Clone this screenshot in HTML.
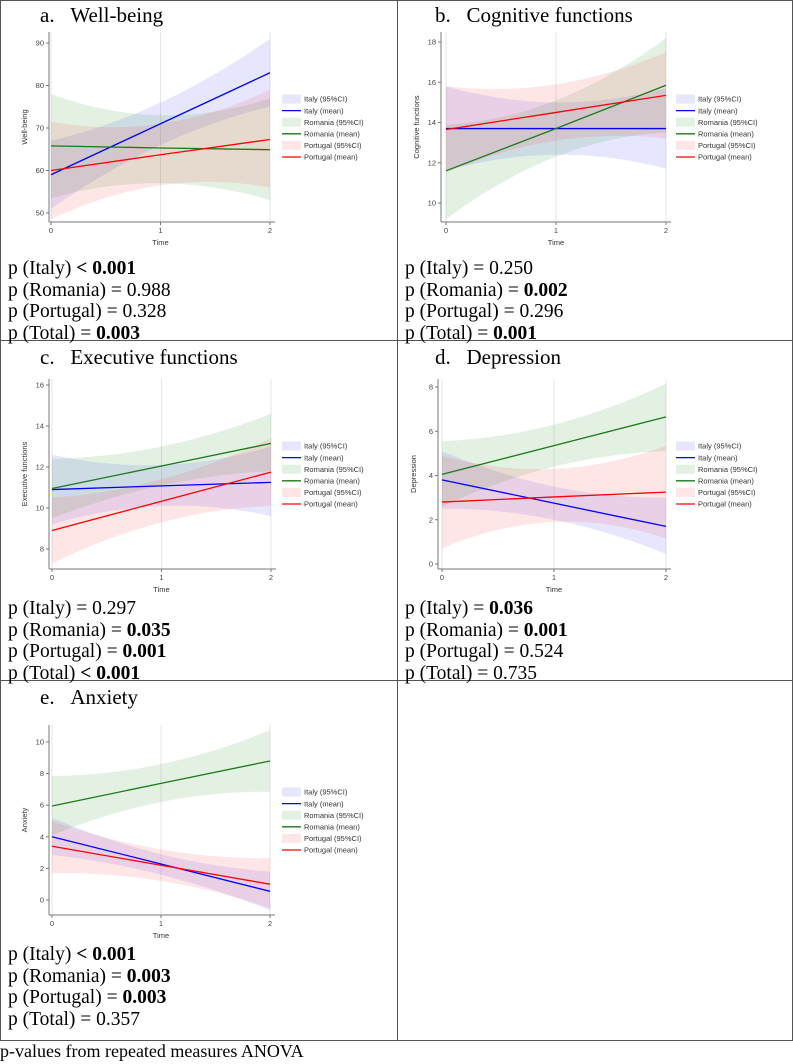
<!DOCTYPE html>
<html><head><meta charset="utf-8">
<style>
body{margin:0;background:#fff;width:793px;height:1064px;position:relative;overflow:hidden;font-family:"Liberation Serif",serif;}
.cell{position:absolute;border:1px solid #555;box-sizing:border-box;}
.title{position:absolute;font-size:21px;color:#000;font-family:"Liberation Serif",serif;}
.ptxt{position:absolute;font-size:19.5px;line-height:21.5px;color:#000;font-family:"Liberation Serif",serif;}
svg{position:absolute;left:0;top:0;}
</style></head><body>
<div class="cell" style="left:0;top:0;width:398px;height:341px"></div>
<div class="cell" style="left:397px;top:0;width:396px;height:341px"></div>
<div class="cell" style="left:0;top:340px;width:398px;height:341px"></div>
<div class="cell" style="left:397px;top:340px;width:396px;height:341px"></div>
<div class="cell" style="left:0;top:680px;width:398px;height:361px"></div>
<div class="cell" style="left:397px;top:680px;width:396px;height:361px"></div>

<div class="title" style="left:40px;top:3px">a.&nbsp;&nbsp;&nbsp;Well-being</div>
<div class="title" style="left:435px;top:3px">b.&nbsp;&nbsp;&nbsp;Cognitive functions</div>
<div class="title" style="left:40px;top:345px">c.&nbsp;&nbsp;&nbsp;Executive functions</div>
<div class="title" style="left:435px;top:345px">d.&nbsp;&nbsp;&nbsp;Depression</div>
<div class="title" style="left:40px;top:685px">e.&nbsp;&nbsp;&nbsp;Anxiety</div>

<div class="ptxt" style="left:8px;top:258px">p (Italy) <b>&lt; 0.001</b><br>p (Romania) = 0.988<br>p (Portugal) = 0.328<br>p (Total) = <b>0.003</b></div>
<div class="ptxt" style="left:405px;top:258px">p (Italy) = 0.250<br>p (Romania) = <b>0.002</b><br>p (Portugal) = 0.296<br>p (Total) = <b>0.001</b></div>
<div class="ptxt" style="left:8px;top:598px">p (Italy) = 0.297<br>p (Romania) = <b>0.035</b><br>p (Portugal) = <b>0.001</b><br>p (Total) <b>&lt; 0.001</b></div>
<div class="ptxt" style="left:405px;top:598px">p (Italy) = <b>0.036</b><br>p (Romania) = <b>0.001</b><br>p (Portugal) = 0.524<br>p (Total) = 0.735</div>
<div class="ptxt" style="left:8px;top:944px">p (Italy) <b>&lt; 0.001</b><br>p (Romania) = <b>0.003</b><br>p (Portugal) = <b>0.003</b><br>p (Total) = 0.357</div>
<div class="ptxt" style="left:0;top:1041px;font-size:18px">p-values from repeated measures ANOVA</div>

<svg id="charts" width="793" height="1064"></svg>
<script>
const times=[0,1,2];
const seriesNames=["Italy","Romania","Portugal"];
// panel a: Well-being
const aTicks=[50,60,70,80,90];
const aMean={Italy:[59,71,83],Romania:[65.8,65.3,64.9],Portugal:[60,63.7,67.3]};
const aLo={Italy:[51,66,75],Romania:[53.5,57,53],Portugal:[48.5,56.5,56]};
const aHi={Italy:[67,76,91],Romania:[78,73,77],Portugal:[71.5,71,79]};
// panel b: Cognitive functions
const bTicks=[10,12,14,16,18];
const bMean={Italy:[13.7,13.7,13.7],Romania:[11.6,13.7,15.85],Portugal:[13.65,14.5,15.35]};
const bLo={Italy:[11.6,12.4,11.7],Romania:[9.2,12.3,13.5],Portugal:[11.5,13.1,13.2]};
const bHi={Italy:[15.8,15,15.7],Romania:[13.9,15.1,18.2],Portugal:[15.8,15.9,17.5]};
// panel c: Executive functions
const cTicks=[8,10,12,14,16];
const cMean={Italy:[10.9,11.08,11.25],Romania:[10.95,12.05,13.15],Portugal:[8.9,10.33,11.75]};
const cLo={Italy:[9.2,10.1,9.6],Romania:[9.5,11.1,11.8],Portugal:[7.3,9.3,10.1]};
const cHi={Italy:[12.6,12.1,13.0],Romania:[12.4,13.0,14.6],Portugal:[10.5,11.4,13.4]};
// panel d: Depression
const dTicks=[0,2,4,6,8];
const dMean={Italy:[3.8,2.75,1.7],Romania:[4.05,5.35,6.65],Portugal:[2.8,3.03,3.25]};
const dLo={Italy:[2.5,2.0,0.45],Romania:[2.6,4.4,5.1],Portugal:[0.7,1.9,1.15]};
const dHi={Italy:[5.1,3.5,3.0],Romania:[5.55,6.3,8.15],Portugal:[4.9,4.3,5.35]};
// panel e: Anxiety
const eTicks=[0,2,4,6,8,10];
const eMean={Italy:[4.0,2.28,0.55],Romania:[5.95,7.38,8.8],Portugal:[3.4,2.2,1.0]};
const eLo={Italy:[2.85,1.6,-0.65],Romania:[4.1,6.2,6.85],Portugal:[1.7,1.2,-0.5]};
const eHi={Italy:[5.2,2.9,1.8],Romania:[7.85,8.6,10.75],Portugal:[5.0,3.2,2.65]};

const lineCol={Italy:"#0000ff",Romania:"#1a7a1a",Portugal:"#ff0000"};
const fillCol={Italy:"rgba(60,60,255,0.13)",Romania:"rgba(40,150,40,0.13)",Portugal:"rgba(255,60,60,0.13)"};
const NS="http://www.w3.org/2000/svg";
const svg=document.getElementById('charts');
function mk(tag,attrs,parent){const e=document.createElementNS(NS,tag);for(const k in attrs)e.setAttribute(k,attrs[k]);(parent||svg).appendChild(e);return e;}
function quad(v,t){return v[0]*(t-1)*(t-2)/2 - v[1]*t*(t-2) + v[2]*t*(t-1)/2;}

function panel(id,cfg,ticks,mean,lo,hi){
  const g=mk('g',{});
  
  
  const x=t=>cfg.x0+(cfg.x2-cfg.x0)*t/2;
  const t0=ticks[0],t1=ticks[ticks.length-1];
  const y=v=>cfg.yA+(cfg.yB-cfg.yA)*(v-t0)/(t1-t0);
  times.forEach(t=>{const gl=mk('line',{x1:x(t),x2:x(t),y1:cfg.top,y2:cfg.bot,stroke:'#e6e6e6','stroke-width':1},g);
    });
  seriesNames.forEach(s=>{
    let up=[],dn=[];
    for(let i=0;i<=40;i++){const t=2*i/40;up.push(x(t).toFixed(1)+','+y(quad(hi[s],t)).toFixed(1));dn.push(x(t).toFixed(1)+','+y(quad(lo[s],t)).toFixed(1));}
    const p=mk('polygon',{points:up.concat(dn.reverse()).join(' '),fill:fillCol[s]},g);
    
    
  });
  seriesNames.forEach(s=>{
    const pl=mk('polyline',{points:times.map((t,i)=>x(t)+','+y(mean[s][i])).join(' '),fill:'none',stroke:lineCol[s],'stroke-width':1.3},g);
    
    
  });
  const ax=mk('line',{x1:cfg.ax,x2:cfg.ax,y1:cfg.top,y2:cfg.bot,stroke:'#777','stroke-width':1},g);
  
  const bx=mk('line',{x1:cfg.ax,x2:cfg.x2+5,y1:cfg.bot,y2:cfg.bot,stroke:'#777','stroke-width':1},g);
  
  ticks.forEach(v=>{
    mk('line',{x1:cfg.ax-3,x2:cfg.ax,y1:y(v),y2:y(v),stroke:'#777'},g);
    const tl=mk('text',{x:cfg.ax-5,y:y(v)+2.5,'font-size':7.5,'text-anchor':'end',fill:'#444','font-family':'Liberation Sans, sans-serif'},g);
    tl.textContent=v;
  });
  times.forEach(t=>{
    mk('line',{x1:x(t),x2:x(t),y1:cfg.bot,y2:cfg.bot+3,stroke:'#777'},g);
    const tl=mk('text',{x:x(t),y:cfg.bot+11,'font-size':7.5,'text-anchor':'middle',fill:'#444','font-family':'Liberation Sans, sans-serif'},g);
    tl.textContent=t;
  });
  const xt=mk('text',{x:x(1),y:cfg.bot+23,'font-size':7.5,'text-anchor':'middle',fill:'#333','font-family':'Liberation Sans, sans-serif'},g);
  xt.textContent='Time';
  const yc=(cfg.top+cfg.bot)/2;
  const yt=mk('text',{x:cfg.ax-22,y:yc,'font-size':7.5,'text-anchor':'middle',fill:'#333','font-family':'Liberation Sans, sans-serif',transform:`rotate(-90 ${cfg.ax-22} ${yc})`},g);
  yt.textContent=cfg.ylab;
  const labs=[];seriesNames.forEach(s=>{labs.push([s,'ci']);labs.push([s,'mean']);});
  labs.forEach((l,i)=>{
    const ly=cfg.legY+i*11.6;
    if(l[1]==='ci'){mk('rect',{x:cfg.legX,y:ly-4.5,width:19,height:9,fill:fillCol[l[0]]},g);}
    else{mk('line',{x1:cfg.legX,x2:cfg.legX+19,y1:ly,y2:ly,stroke:lineCol[l[0]],'stroke-width':1.3},g);}
    const lt=mk('text',{x:cfg.legX+22,y:ly+2.7,'font-size':7.5,fill:'#333','font-family':'Liberation Sans, sans-serif'},g);
    lt.textContent=l[0]+(l[1]==='ci'?' (95%CI)':' (mean)');
    
    
  });
}
panel('a',{x0:51,x2:270,ax:49,top:32,bot:222,yA:213,yB:43,legX:282,legY:99,ylab:'Well-being'},aTicks,aMean,aLo,aHi);
panel('b',{x0:446,x2:666,ax:441,top:32,bot:222,yA:203,yB:42,legX:676,legY:99,ylab:'Cognitive functions'},bTicks,bMean,bLo,bHi);
panel('c',{x0:52,x2:271,ax:49,top:379,bot:569,yA:549,yB:385,legX:282,legY:446,ylab:'Executive functions'},cTicks,cMean,cLo,cHi);
panel('d',{x0:442,x2:666,ax:438,top:379,bot:569,yA:564,yB:387,legX:676,legY:446,ylab:'Depression'},dTicks,dMean,dLo,dHi);
panel('e',{x0:52,x2:270,ax:49,top:725,bot:915,yA:900,yB:742,legX:282,legY:792,ylab:'Anxiety'},eTicks,eMean,eLo,eHi);
</script>
</body></html>
